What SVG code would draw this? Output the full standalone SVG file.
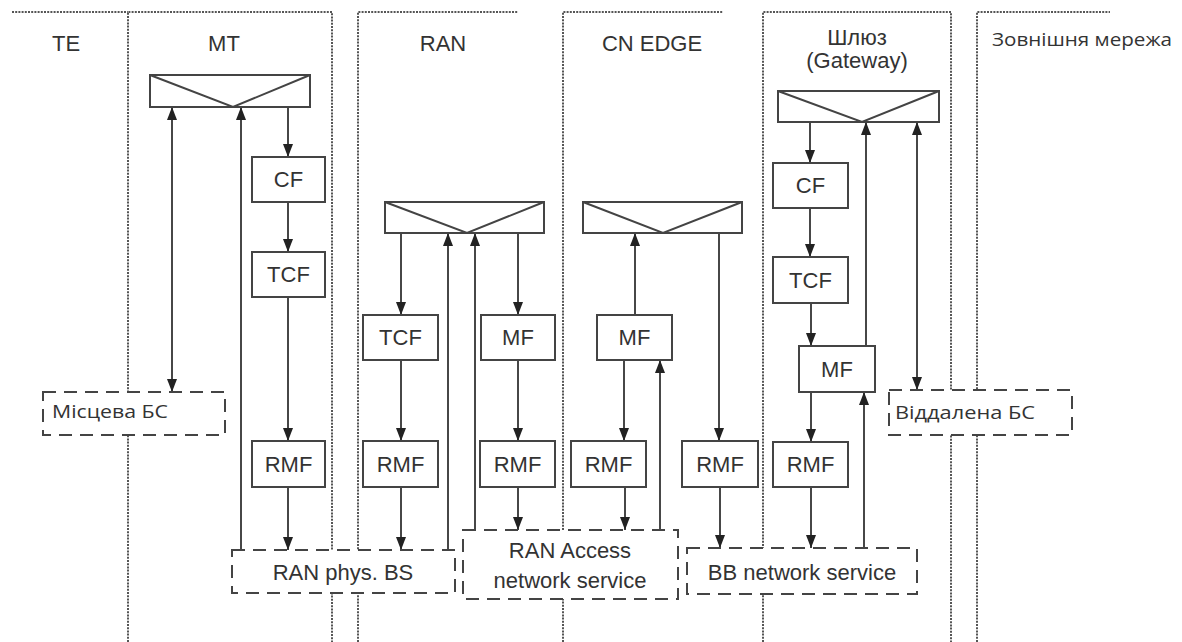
<svg xmlns="http://www.w3.org/2000/svg" width="1182" height="642" viewBox="0 0 1182 642">
<defs>
<marker id="ah" viewBox="0 0 13 10" refX="13" refY="5" markerWidth="13" markerHeight="10" markerUnits="userSpaceOnUse" orient="auto-start-reverse">
<path d="M0,0 L13,5 L0,10 z" fill="#222"/>
</marker>
<style>
.zone{fill:none;stroke:#555;stroke-width:2;stroke-dasharray:2 1.2}
.box{fill:#fff;stroke:#444;stroke-width:2}
.dbox{fill:#fff;stroke:#444;stroke-width:2;stroke-dasharray:13 8}
.mux{fill:none;stroke:#444;stroke-width:2}
.a{fill:none;stroke:#333;stroke-width:1.8;marker-end:url(#ah)}
.b{fill:none;stroke:#333;stroke-width:1.8;marker-end:url(#ah);marker-start:url(#ah)}
.t{font-family:"Liberation Sans",Arial,sans-serif;font-size:22px;fill:#333;text-anchor:middle}
.u{font-family:"Open Sans","DejaVu Sans",sans-serif;font-size:19px;fill:#333}
</style>
</defs>
<rect width="1182" height="642" fill="#fff"/>

<g id="zones">
<path class="zone" d="M12,12 H128"/>
<path class="zone" d="M128,642 V12 H332 V642"/>
<path class="zone" d="M358,642 V12 H518"/>
<path class="zone" d="M563,642 V12 H723"/>
<path class="zone" d="M763,642 V12 H951 V642"/>
<path class="zone" d="M977,642 V12 H1110"/>
</g>

<g id="zone-labels">
<text class="t" x="66" y="51">TE</text>
<text class="t" x="224" y="51">MT</text>
<text class="t" x="443" y="51">RAN</text>
<text class="t" x="652" y="51">CN EDGE</text>
<text class="t" x="857" y="45">Шлюз</text>
<text class="t" x="857" y="68">(Gateway)</text>
<text class="u" x="992" y="46" font-size="20" textLength="180" lengthAdjust="spacingAndGlyphs">Зовнішня мережа</text>
</g>

<g id="connectors">
<path class="b" d="M172,107 V392"/>
<path class="a" d="M241,550 V107"/>
<path class="a" d="M288,107 V157"/>
<path class="a" d="M288,202 V252"/>
<path class="a" d="M288,297 V441"/>
<path class="a" d="M288,487 V550"/>
<path class="a" d="M401,233 V315"/>
<path class="a" d="M401,360 V441"/>
<path class="a" d="M401,487 V550"/>
<path class="a" d="M448,550 V233"/>
<path class="a" d="M475,530 V233"/>
<path class="a" d="M518,233 V315"/>
<path class="a" d="M518,360 V441"/>
<path class="a" d="M518,487 V530"/>
<path class="a" d="M635,315 V233"/>
<path class="a" d="M624,360 V441"/>
<path class="a" d="M625,487 V530"/>
<path class="a" d="M660,530 V360"/>
<path class="a" d="M719,233 V441"/>
<path class="a" d="M720,487 V548"/>
<path class="a" d="M810,122 V163"/>
<path class="a" d="M810,208 V257"/>
<path class="a" d="M811,303 V346"/>
<path class="a" d="M866,346 V122"/>
<path class="b" d="M917,122 V390"/>
<path class="a" d="M811,392 V442"/>
<path class="a" d="M811,487 V548"/>
<path class="a" d="M864,548 V392"/>
</g>

<g id="mt-mux"><rect class="mux" x="150" y="75" width="160" height="32"/><polyline class="mux" points="150,75 233,107 310,75"/></g>
<g id="mt-cf"><rect class="box" x="252" y="157" width="73" height="45"/><text class="t" x="288.5" y="187">CF</text></g>
<g id="mt-tcf"><rect class="box" x="252" y="252" width="73" height="45"/><text class="t" x="288.5" y="282">TCF</text></g>
<g id="mt-rmf"><rect class="box" x="252" y="441" width="73" height="46"/><text class="t" x="288.5" y="472">RMF</text></g>

<g id="ran-mux"><rect class="mux" x="385" y="202" width="159" height="31"/><polyline class="mux" points="385,202 467,233 544,202"/></g>
<g id="ran-tcf"><rect class="box" x="363" y="315" width="75" height="45"/><text class="t" x="400.5" y="345">TCF</text></g>
<g id="ran-mf"><rect class="box" x="481" y="315" width="74" height="45"/><text class="t" x="518" y="345">MF</text></g>
<g id="ran-rmf1"><rect class="box" x="363" y="441" width="75" height="46"/><text class="t" x="400.5" y="472">RMF</text></g>
<g id="ran-rmf2"><rect class="box" x="480" y="441" width="75" height="46"/><text class="t" x="517.5" y="472">RMF</text></g>

<g id="cn-mux"><rect class="mux" x="583" y="202" width="159" height="31"/><polyline class="mux" points="583,202 663,233 742,202"/></g>
<g id="cn-mf"><rect class="box" x="597" y="315" width="75" height="45"/><text class="t" x="634.5" y="345">MF</text></g>
<g id="cn-rmf1"><rect class="box" x="571" y="441" width="75" height="46"/><text class="t" x="608.5" y="472">RMF</text></g>
<g id="cn-rmf2"><rect class="box" x="682" y="441" width="76" height="46"/><text class="t" x="720" y="472">RMF</text></g>

<g id="gw-mux"><rect class="mux" x="778" y="91" width="161" height="31"/><polyline class="mux" points="778,91 862,122 939,91"/></g>
<g id="gw-cf"><rect class="box" x="773" y="163" width="75" height="45"/><text class="t" x="810.5" y="193">CF</text></g>
<g id="gw-tcf"><rect class="box" x="773" y="257" width="75" height="46"/><text class="t" x="810.5" y="288">TCF</text></g>
<g id="gw-mf"><rect class="box" x="799" y="346" width="76" height="46"/><text class="t" x="837" y="377">MF</text></g>
<g id="gw-rmf"><rect class="box" x="773" y="442" width="75" height="45"/><text class="t" x="810.5" y="472">RMF</text></g>

<g id="local-bs"><rect class="dbox" x="43" y="392" width="182" height="43"/><text class="u" x="52" y="418" textLength="116" lengthAdjust="spacingAndGlyphs">Місцева БС</text></g>
<g id="remote-bs"><rect class="dbox" x="889" y="390" width="183" height="45"/><text class="u" x="895" y="419" textLength="140" lengthAdjust="spacingAndGlyphs">Віддалена БС</text></g>
<g id="ran-phys-bs"><rect class="dbox" x="232" y="550" width="223" height="43"/><text class="t" x="343" y="580">RAN phys. BS</text></g>
<g id="ran-access"><rect class="dbox" x="463" y="530" width="215" height="69"/><text class="t" x="570" y="558">RAN Access</text><text class="t" x="570" y="588">network service</text></g>
<g id="bb-service"><rect class="dbox" x="687" y="548" width="230" height="46"/><text class="t" x="802" y="580">BB network service</text></g>
</svg>
